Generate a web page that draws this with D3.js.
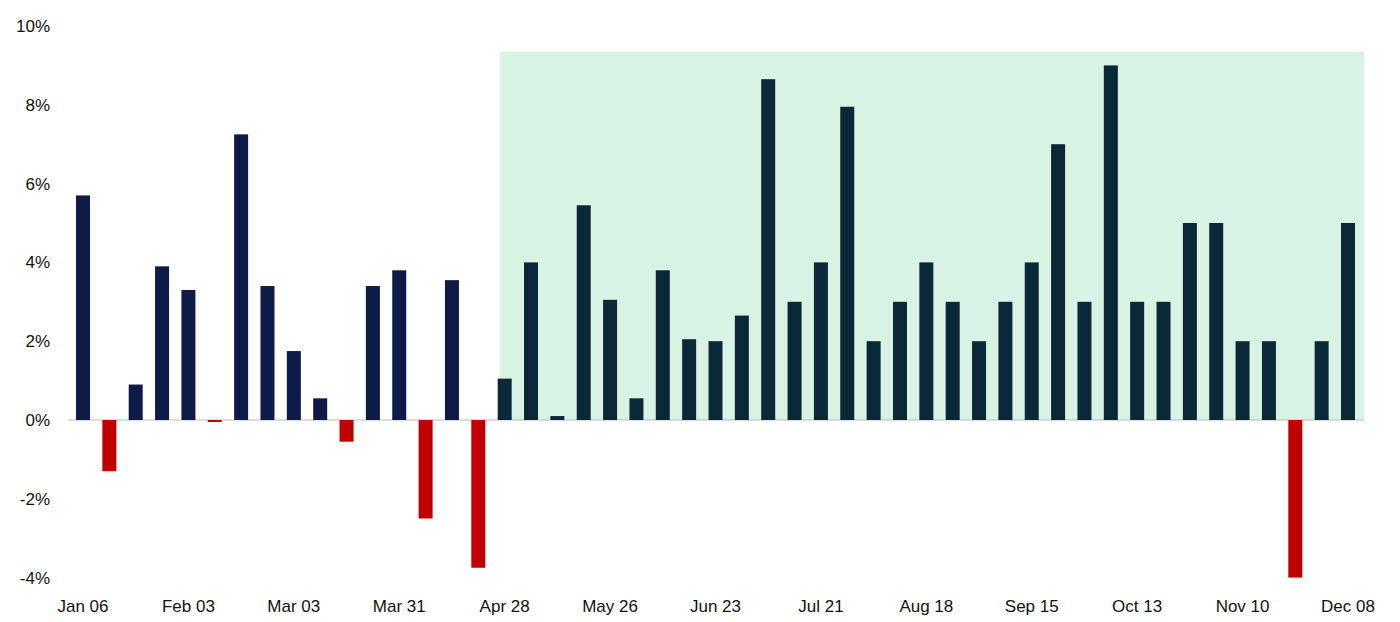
<!DOCTYPE html>
<html><head><meta charset="utf-8">
<script src="https://cdn.jsdelivr.net/npm/d3@7"></script>
<style>body{margin:0;background:#fff}svg{font-family:"Liberation Sans",Arial,sans-serif}</style>
</head><body><svg id="c" width="1400" height="622"></svg>
<script>
const values=[5.7,-1.3,0.9,3.9,3.3,-0.05,7.25,3.4,1.75,0.55,-0.55,3.4,3.8,-2.5,3.55,-3.75,
1.05,4.0,0.1,5.45,3.05,0.55,3.8,2.05,2.0,2.65,8.65,3.0,4.0,7.95,2.0,3.0,4.0,3.0,2.0,3.0,4.0,7.0,3.0,9.0,3.0,3.0,5.0,5.0,2.0,2.0,-4.0,2.0,5.0];
const tickLabels=["Jan 06","Feb 03","Mar 03","Mar 31","Apr 28","May 26","Jun 23","Jul 21","Aug 18","Sep 15","Oct 13","Nov 10","Dec 08"];
const yTicks=[-4,-2,0,2,4,6,8,10];
const shadeStartIndex=16, shadeTop=9.35;
const svg=d3.select("#c");
const idx=values.map((d,i)=>i);
const x=d3.scaleLinear().domain([0,48]).range([83,1348]);
const y=d3.scaleLinear().domain([-4,10]).range([577.6,26]);
const bw=14;
svg.append("rect").attr("x",x(shadeStartIndex)-bw/2+2).attr("width",1364-(x(shadeStartIndex)-bw/2+2))
 .attr("y",y(shadeTop)).attr("height",y(0)-y(shadeTop)).attr("fill","#d8f3e4");
svg.append("line").attr("x1",68).attr("x2",1364).attr("y1",y(0)).attr("y2",y(0)).attr("stroke","#bbb");
svg.selectAll(".b").data(values).join("rect")
 .attr("x",(d,i)=>x(i)-bw/2).attr("width",bw)
 .attr("y",d=>y(Math.max(0,d))).attr("height",d=>Math.max(1,Math.abs(y(d)-y(0))))
 .attr("fill",(d,i)=>d<0?"#c00000":(i<shadeStartIndex?"#0e1a48":"#0a2838"));
svg.selectAll(".yt").data(yTicks).join("text").attr("x",50).attr("y",d=>y(d)+6)
 .attr("text-anchor","end").attr("font-size",17).attr("fill","#111").text(d=>d+"%");
svg.selectAll(".xt").data(tickLabels).join("text").attr("x",(d,i)=>x(i*4)).attr("y",612)
 .attr("text-anchor","middle").attr("font-size",17).attr("fill","#111").text(d=>d);
</script></body></html>
